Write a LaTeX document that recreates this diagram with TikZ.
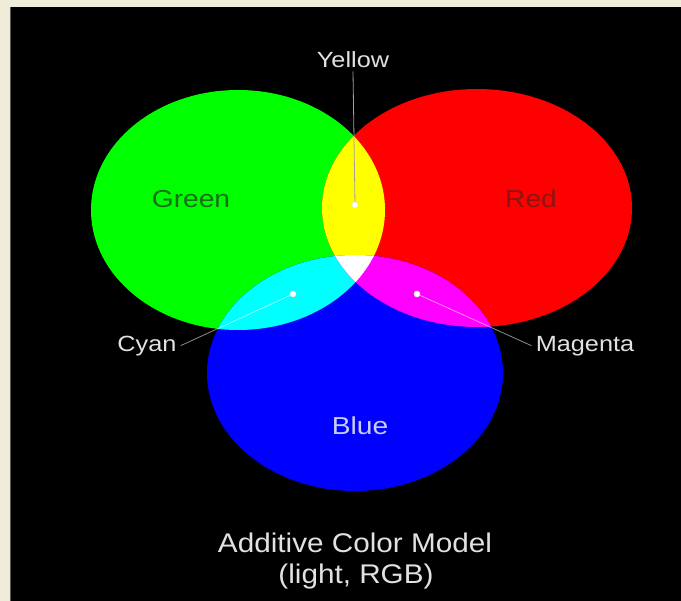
\documentclass[tikz,border=0pt]{standalone}
\usepackage{fontspec}
\setmainfont{Liberation Sans}
\definecolor{bgbeige}{RGB}{239,237,218}
\definecolor{labelgray}{RGB}{225,225,225}
\definecolor{greentext}{RGB}{25,110,25}
\definecolor{redtext}{RGB}{140,20,20}
\definecolor{bluetext}{RGB}{200,205,255}
\definecolor{edgegray}{RGB}{90,90,90}
\definecolor{leadgray}{RGB}{160,160,160}
\definecolor{pgreen}{RGB}{0,255,0}
\definecolor{pred}{RGB}{255,0,0}
\definecolor{pblue}{RGB}{0,0,255}
\definecolor{pyellow}{RGB}{255,255,0}
\definecolor{pcyan}{RGB}{0,255,255}
\definecolor{pmagenta}{RGB}{255,0,255}
\definecolor{pwhite}{RGB}{255,255,255}
\begin{document}
\begin{tikzpicture}[x=1pt,y=-1pt,
  lbl/.style={text=labelgray, font=\fontsize{22}{24}\selectfont, xscale=1.15, anchor=base, inner sep=0pt},
  cname/.style={font=\fontsize{24.5}{26}\selectfont, xscale=1.15, anchor=base, inner sep=0pt},
  ttl/.style={text=labelgray, font=\fontsize{27}{30}\selectfont, xscale=1.1, anchor=base, inner sep=0pt},
  spot/.style={circle, fill=white, draw=white!80!gray, line width=0.5pt, inner sep=0pt, minimum size=6pt},
  leader/.style={draw=leadgray, line width=0.8pt},
  softleader/.style={draw=white, draw opacity=0.55, line width=0.8pt}]
\useasboundingbox (0,0) rectangle (681,601);
\fill[bgbeige] (0,0) rectangle (681,601);
\fill[black] (10,7) rectangle (681,601);
\draw[edgegray, line width=1.2pt] (10.6,7) -- (10.6,601);
% primary discs
\fill[pgreen] (238,210) ellipse [x radius=147, y radius=120];
\fill[pred] (477,208) ellipse [x radius=155, y radius=119];
\fill[pblue] (355,373) ellipse [x radius=148, y radius=118];
% overlaps
\begin{scope}
  \clip (238,210) ellipse [x radius=147, y radius=120];
  \fill[pyellow] (477,208) ellipse [x radius=155, y radius=119];
  \fill[pcyan] (355,373) ellipse [x radius=148, y radius=118];
\end{scope}
\begin{scope}
  \clip (477,208) ellipse [x radius=155, y radius=119];
  \fill[pmagenta] (355,373) ellipse [x radius=148, y radius=118];
\end{scope}
\begin{scope}
  \clip (238,210) ellipse [x radius=147, y radius=120];
  \clip (477,208) ellipse [x radius=155, y radius=119];
  \fill[pwhite] (355,373) ellipse [x radius=148, y radius=118];
\end{scope}
% colour names
\node[cname, text=greentext] (gname) at (191,208) {Green};
\node[cname, text=redtext] (rname) at (531,208) {Red};
\node[cname, text=bluetext] (bname) at (360,435) {Blue};
% mixed labels
\node[lbl] (ylab) at (353,68) {Yellow};
\node[lbl] (clab) at (147,352) {Cyan};
\node[lbl] (mlab) at (585,352) {Magenta};
% spots
\node[spot] (yspot) at (355,205) {};
\node[spot] (cspot) at (293,294) {};
\node[spot] (mspot) at (417,294) {};
% leaders
\draw[leader] ([yshift=-3pt]ylab.south) -- (yspot);
\draw[softleader] ([xshift=4pt,yshift=1pt]clab.east) -- (cspot);
\draw[softleader] ([xshift=-4pt,yshift=1pt]mlab.west) -- (mspot);
% title
\node[ttl] (t1) at (355,553) {Additive Color Model};
\node[ttl] (t2) at (356,584) {(light, RGB)};
\end{tikzpicture}
\end{document}
